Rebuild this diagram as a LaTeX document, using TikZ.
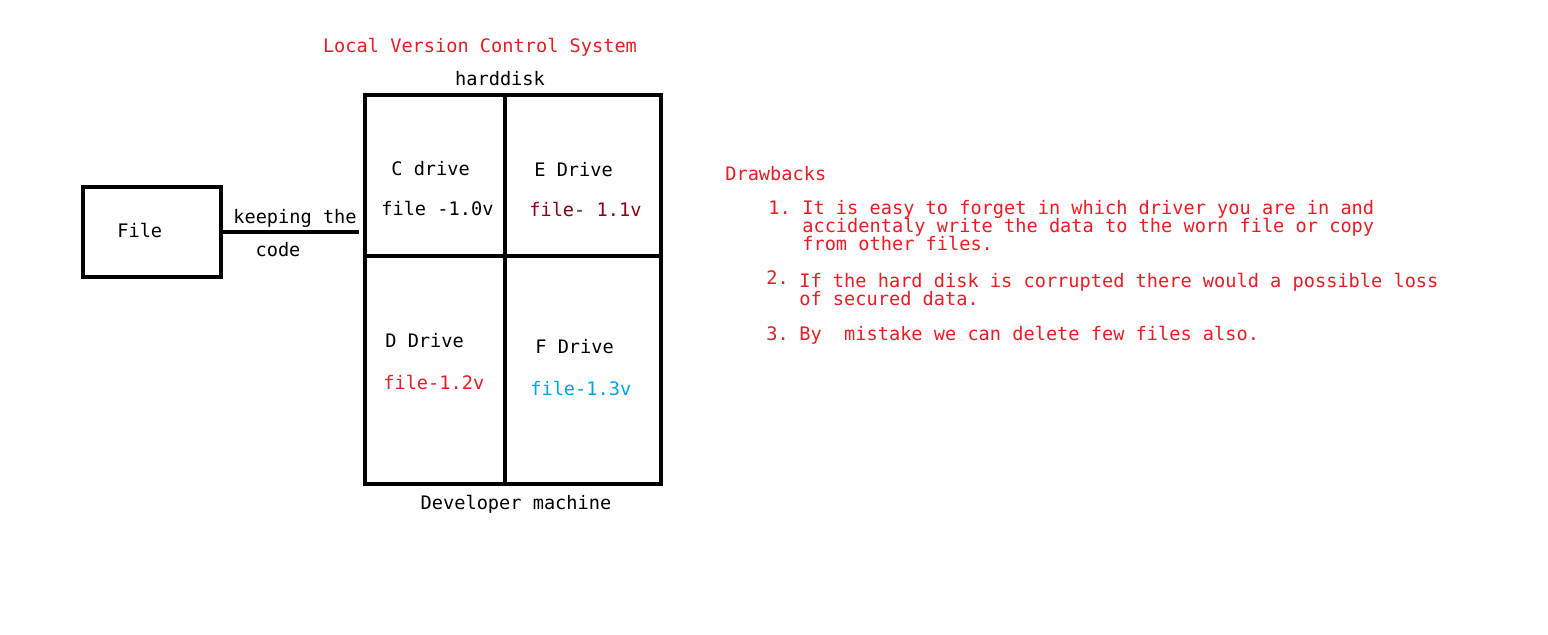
\documentclass[tikz,border=0pt]{standalone}
\usepackage{fontspec}
\setmonofont{DejaVu Sans Mono}
\definecolor{notered}{RGB}{232,28,36}
\definecolor{filered}{RGB}{136,0,21}
\definecolor{fileblue}{RGB}{0,162,232}
\tikzset{
  lbl/.style={font=\ttfamily\fontsize{10.6}{12}\selectfont, inner sep=0pt,
    text height=1.5ex, text depth=.3ex, yshift=-0.055cm},
  cell/.style={draw, line width=1.9pt, inner sep=0pt},
  link/.style={line width=1.9pt}
}
\begin{document}
\begin{tikzpicture}[x=0.02cm, y=-0.02cm]
\useasboundingbox (0,0) rectangle (1548,635);
% file box and connector
\node[cell, minimum width=2.76cm, minimum height=1.8cm] (file) at (152,232) {};
\node[lbl, anchor=west] (filetxt) at (117,230) {File};
\coordinate (keepend) at (359,231);
\draw[link] (file.east) -- (file.east -| keepend);
\node[lbl] (keeping) at (295,216) {keeping the};
\node[lbl] (code) at (278,249) {code};
% harddisk
\node[cell, minimum width=2.8cm, minimum height=3.22cm] (ccell) at (435,175.5) {};
\node[cell, minimum width=3.12cm, minimum height=3.22cm] (ecell) at (583,175.5) {};
\node[cell, minimum width=2.8cm, minimum height=4.56cm] (dcell) at (435,370) {};
\node[cell, minimum width=3.12cm, minimum height=4.56cm] (fcell) at (583,370) {};
\node[lbl, text=notered] (title) at (480,45) {Local Version Control System};
\node[lbl] (harddisk) at (500,78) {harddisk};
\node[lbl] (devmachine) at (516,502) {Developer machine};
\node[lbl, anchor=west] (cname) at (391,168) {C drive};
\node[lbl, anchor=west] (cfile) at (381,208) {file -1.0v};
\node[lbl, anchor=west] (ename) at (534,169) {E Drive};
\node[lbl, anchor=west, text=filered] (efile) at (529,209) {file- 1.1v};
\node[lbl, anchor=west] (dname) at (385,340) {D Drive};
\node[lbl, anchor=west, text=notered] (dfile) at (383,382) {file-1.2v};
\node[lbl, anchor=west] (fname) at (535,346) {F Drive};
\node[lbl, anchor=west, text=fileblue] (ffile) at (530,388) {file-1.3v};
% drawbacks
\begin{scope}[every node/.style={lbl, anchor=west, text=notered}]
\node (drawbacks) at (725,173) {Drawbacks};
\node (numone) at (768,207) {1.};
\node (oneA) at (802,207) {It is easy to forget in which driver you are in and};
\node (oneB) at (802,225) {accidentaly write the data to the worn file or copy};
\node (oneC) at (802,243) {from other files.};
\node (numtwo) at (766,277) {2.};
\node (twoA) at (799,280) {If the hard disk is corrupted there would a possible loss};
\node (twoB) at (799,298) {of secured data.};
\node (numthree) at (766,333) {3.};
\node (threeA) at (799,333) {By\ \ mistake we can delete few files also.};
\end{scope}
\end{tikzpicture}
\end{document}
